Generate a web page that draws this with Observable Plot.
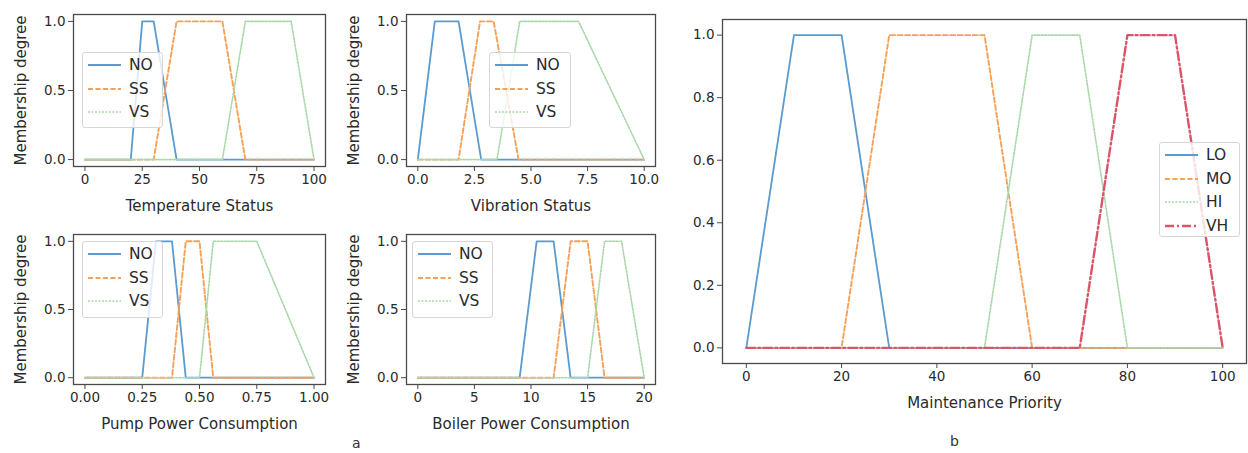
<!DOCTYPE html>
<html>
<head>
<meta charset="utf-8">
<script src="https://cdn.jsdelivr.net/npm/d3@7"></script>
<script src="https://cdn.jsdelivr.net/npm/@observablehq/plot@0.6"></script>
<style>
  html, body { margin: 0; padding: 0; background: #fff; }
  #root { position: relative; width: 1248px; height: 453px; overflow: hidden; font-family: "DejaVu Sans", sans-serif; color: #2a2a2a; }
  .panel { position: absolute; }
  .legend { position: absolute; box-sizing: border-box; background: rgba(255,255,255,0.8); border: 1px solid #d6d6d6; border-radius: 3px; }
  .row { position: absolute; left: 0; height: 20px; display: flex; align-items: center; font-size: 15.5px; }
  .row svg { margin-left: 5px; margin-right: 8px; }
  .tag { position: absolute; font-size: 14px; color: #333; }
</style>
</head>
<body>
<div id="root"></div>
<script>
// ---- data ----
const trapezoidLevels = [0, 1, 1, 0];

const temperatureUniverse = [0, 100];
const temperatureNO = [20, 25, 30, 40];
const temperatureSS = [30, 40, 60, 70];
const temperatureVS = [60, 70, 90, 100];
const temperatureTicks = [0, 25, 50, 75, 100];

const vibrationUniverse = [0, 10];
const vibrationNO = [0, 0.75, 1.8, 2.8];
const vibrationSS = [1.8, 2.75, 3.35, 4.45];
const vibrationVS = [3.5, 4.5, 7.1, 10];
const vibrationTicks = [0, 2.5, 5, 7.5, 10];

const pumpUniverse = [0, 1];
const pumpNO = [0.25, 0.31, 0.38, 0.44];
const pumpSS = [0.38, 0.44, 0.5, 0.56];
const pumpVS = [0.5, 0.56, 0.75, 1.0];
const pumpTicks = [0, 0.25, 0.5, 0.75, 1.0];

const boilerUniverse = [0, 20];
const boilerNO = [9, 10.5, 12, 13.5];
const boilerSS = [12, 13.5, 15, 16.5];
const boilerVS = [15, 16.5, 18, 20];
const boilerTicks = [0, 5, 10, 15, 20];

const priorityUniverse = [0, 100];
const priorityLO = [0, 10, 20, 30];
const priorityMO = [20, 30, 50, 60];
const priorityHI = [50, 60, 70, 80];
const priorityVH = [70, 80, 90, 100];
const priorityTicks = [0, 20, 40, 60, 80, 100];

const smallYTicks = [0, 0.5, 1.0];
const bigYTicks = [0, 0.2, 0.4, 0.6, 0.8, 1.0];

const inputTerms = ["NO", "SS", "VS"];
const outputTerms = ["LO", "MO", "HI", "VH"];

// ---- styles ----
const lineStyles = [
  {color: "#5b9bd0", dash: null, width: 1.8},
  {color: "#f4a259", dash: "5,2.5", width: 1.9},
  {color: "#a9d8a9", dash: "2,1.5", width: 1.6},
  {color: "#dc5468", dash: "9,3,2,3", width: 2.4}
];

function points(universe, trap) {
  return [{x: universe[0], y: 0}, ...trap.map((x, i) => ({x, y: trapezoidLevels[i]})), {x: universe[1], y: 0}];
}

const root = document.getElementById("root");

function panel({left, top, width, height, mt, mr, mb, ml, universe, terms, xTicks, xFormat, yTicks, xLabel, yLabel, tickFont, labelFont, xLabelOffset, yLabelOffset}) {
  const pad = 0.05 * (universe[1] - universe[0]);
  const series = terms.map((t, i) => ({pts: points(universe, t), style: lineStyles[i]}));
  const marks = [
    Plot.frame({stroke: "#4a4a4a", strokeWidth: 1.3}),
    Plot.axisX({ticks: xTicks, tickFormat: d3.format(xFormat), tickSize: 5, tickPadding: 3, label: null, fontSize: tickFont, stroke: "#4a4a4a"}),
    Plot.axisY({ticks: yTicks, tickFormat: d3.format(".1f"), tickSize: 5, tickPadding: 3, label: null, fontSize: tickFont, stroke: "#4a4a4a"}),
    Plot.axisX({ticks: [], tickSize: 0, label: xLabel, labelAnchor: "center", labelOffset: xLabelOffset, fontSize: labelFont, labelArrow: "none"}),
  ];
  if (yLabel) marks.push(Plot.axisY({ticks: [], tickSize: 0, label: yLabel, labelAnchor: "center", labelOffset: yLabelOffset, fontSize: labelFont, labelArrow: "none"}));
  for (const s of series) {
    marks.push(Plot.line(s.pts, {x: "x", y: "y", stroke: s.style.color, strokeWidth: s.style.width, strokeDasharray: s.style.dash}));
  }
  const chart = Plot.plot({
    width, height, marginTop: mt, marginRight: mr, marginBottom: mb, marginLeft: ml,
    x: {domain: [universe[0] - pad, universe[1] + pad]},
    y: {domain: [-0.05, 1.05]},
    style: {fontFamily: "DejaVu Sans, sans-serif", color: "#2a2a2a", background: "transparent", overflow: "visible"},
    marks
  });
  chart.classList.add("panel");
  chart.style.left = left + "px";
  chart.style.top = top + "px";
  root.appendChild(chart);
}

function legend({left, top, width, height, names, rowTops}) {
  const box = document.createElement("div");
  box.className = "legend";
  Object.assign(box.style, {left: left + "px", top: top + "px", width: width + "px", height: height + "px"});
  names.forEach((n, i) => {
    const s = lineStyles[i];
    const row = document.createElement("div");
    row.className = "row";
    row.style.top = rowTops[i] + "px";
    row.innerHTML = `<svg width="33" height="10"><line x1="0" y1="5" x2="33" y2="5" stroke="${s.color}" stroke-width="${s.width}" ${s.dash ? `stroke-dasharray="${s.dash}"` : ""}/></svg><span>${n}</span>`;
    box.appendChild(row);
  });
  root.appendChild(box);
}

const smallCommon = {tickFont: 13.5, labelFont: 15, xLabelOffset: 44, yLabelOffset: 58, yTicks: smallYTicks, yLabel: "Membership degree"};

panel({...smallCommon, left: 0, top: 0, width: 330, height: 220, mt: 14, mr: 5, mb: 54, ml: 73,
  universe: temperatureUniverse, terms: [temperatureNO, temperatureSS, temperatureVS], xTicks: temperatureTicks, xFormat: "d", xLabel: "Temperature Status"});
panel({...smallCommon, left: 330, top: 0, width: 330, height: 220, mt: 14, mr: 5, mb: 54, ml: 76,
  universe: vibrationUniverse, terms: [vibrationNO, vibrationSS, vibrationVS], xTicks: vibrationTicks, xFormat: ".1f", xLabel: "Vibration Status"});
panel({...smallCommon, left: 0, top: 220, width: 330, height: 233, mt: 14, mr: 5, mb: 69, ml: 73,
  universe: pumpUniverse, terms: [pumpNO, pumpSS, pumpVS], xTicks: pumpTicks, xFormat: ".2f", xLabel: "Pump Power Consumption"});
panel({...smallCommon, left: 330, top: 220, width: 330, height: 233, mt: 14, mr: 5, mb: 69, ml: 76,
  universe: boilerUniverse, terms: [boilerNO, boilerSS, boilerVS], xTicks: boilerTicks, xFormat: "d", xLabel: "Boiler Power Consumption"});
panel({left: 680, top: 0, width: 568, height: 453, mt: 19, mr: 2, mb: 90, ml: 42,
  universe: priorityUniverse, terms: [priorityLO, priorityMO, priorityHI, priorityVH], xTicks: priorityTicks, xFormat: "d",
  yTicks: bigYTicks, xLabel: "Maintenance Priority", yLabel: null, tickFont: 13.5, labelFont: 15, xLabelOffset: 44});

const smallRows = [2, 25.5, 49];
legend({left: 82, top: 52, width: 81, height: 76, names: inputTerms, rowTops: smallRows});
legend({left: 489, top: 52, width: 82, height: 76, names: inputTerms, rowTops: smallRows});
legend({left: 82, top: 241, width: 81, height: 77, names: inputTerms, rowTops: smallRows});
legend({left: 412, top: 241, width: 81, height: 77, names: inputTerms, rowTops: smallRows});
legend({left: 1159, top: 142, width: 81, height: 95, names: outputTerms, rowTops: [2, 25.5, 49, 72.5]});

for (const [txt, x, y] of [["a", 352, 435], ["b", 950, 433]]) {
  const t = document.createElement("div");
  t.className = "tag";
  t.textContent = txt;
  t.style.left = x + "px";
  t.style.top = y + "px";
  root.appendChild(t);
}
</script>
</body>
</html>
